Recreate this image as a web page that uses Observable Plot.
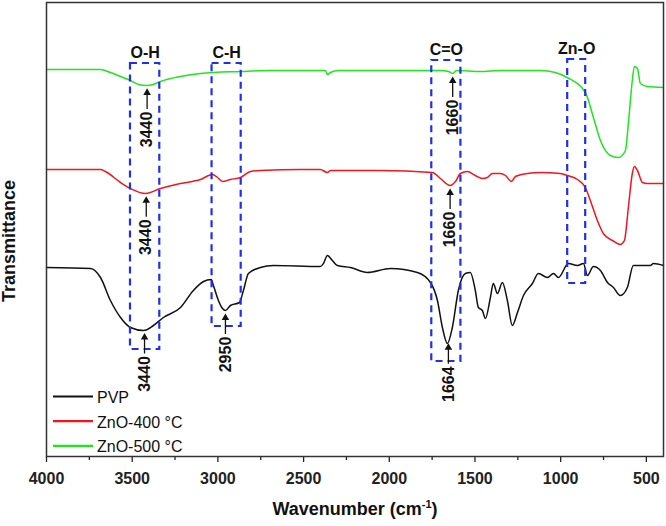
<!DOCTYPE html>
<html><head><meta charset="utf-8">
<script src="https://cdn.jsdelivr.net/npm/d3@7"></script>
<script src="https://cdn.jsdelivr.net/npm/@observablehq/plot@0.6"></script>
<style>body{margin:0;background:#fff}</style>
</head><body><div id="chart"></div>
<script>
const seriesNames = ["PVP", "ZnO-400 °C", "ZnO-500 °C"];
const seriesColors = ["#111111", "#f5141e", "#1fe51f"];

const pvpWave = [4000,3743,3685,3627,3568,3510,3434,3376,3318,3218,3143,3084,3039,3026,2997,2973,2956,2927,2874,2851,2822,2752,2676,2402,2384,2361,2332,2303,2227,2128,1993,1836,1760,1719,1690,1661,1632,1597,1556,1527,1498,1480,1457,1439,1410,1393,1369,1340,1311,1282,1252,1217,1165,1130,1077,1042,1013,955,902,867,844,809,768,727,692,652,611,576,477,459,400];
const pvpT = [189,188,179,156,139,129,126,131,139,149,166,175,177,171,156,148,146,151,154,166,183,189,191,190,193,201,196,191,189,184,188,184,174,156,129,113,129,166,183,184,166,149,146,138,159,173,163,174,156,131,144,161,173,183,179,183,179,193,191,193,181,190,186,174,169,161,169,191,191,193,191];

const zno400Wave = [4000,3685,3656,3568,3510,3422,3335,3218,3102,3032,3002,2973,2927,2868,2810,2752,2518,2402,2361,2343,2052,1748,1702,1645,1614,1585,1544,1498,1457,1428,1398,1352,1322,1287,1264,1194,1118,1002,961,902,856,827,786,751,698,652,628,605,582,570,552,523,494,400];
const zno400T = [287,287,285,274,268,263,268,273,277,282,279,275,277,279,285,286,287,287,284,286,286,284,278,271,275,283,285,281,278,279,283,283,281,275,280,283,284,283,281,277,269,256,236,223,216,212,216,249,283,290,286,274,273,273];

const zno500Wave = [4000,3685,3627,3568,3510,3463,3417,3376,3335,3218,3102,2868,2693,2402,2372,2361,2343,2297,1935,1702,1655,1630,1608,1468,1352,1118,1031,963,856,809,768,710,663,622,605,582,570,552,535,494,400];
const zno500T = [387,387,384,380,376,372,371,372,375,380,383,385,386,386,386,382,384,386,386,386,385,383,386,385,386,386,384,379,364,339,316,301,299,306,333,376,390,388,373,370,369];

const xTicks = [4000,3500,3000,2500,2000,1500,1000,500];
const minorTicks = [3750,3250,2750,2250,1750,1250,750];

const boxLabels = ["O-H", "C-H", "C=O", "Zn-O"];
const boxFrom = [3510, 3034, 1752, 959];
const boxTo = [3339, 2864, 1582, 854];
const boxTop = [393, 393, 396, 397];
const boxBottom = [107, 130, 95, 173];

const peakLabels = ["3440", "3440", "3440", "2950", "1660", "1660", "1664"];
const peakWave = [3413, 3418, 3428, 2956, 1630, 1645, 1655];
const peakSeries = [2, 1, 0, 0, 2, 1, 0];

const waves = [pvpWave, zno400Wave, zno500Wave];
const values = [pvpT, zno400T, zno500T];

const spectra = [];
waves.forEach((ws, i) => ws.forEach((w, j) => spectra.push({series: seriesNames[i], w, t: values[i][j]})));

function valueAt(i, w) {
  const ws = waves[i], ts = values[i];
  for (let j = 0; j < ws.length - 1; j++) {
    if (w <= ws[j] && w >= ws[j + 1]) {
      const f = (ws[j] - w) / (ws[j] - ws[j + 1]);
      return ts[j] + f * (ts[j + 1] - ts[j]);
    }
  }
  return ts[ts.length - 1];
}

const boxes = boxLabels.map((label, i) => ({label, x1: boxFrom[i], x2: boxTo[i], y1: boxBottom[i], y2: boxTop[i], xm: (boxFrom[i] + boxTo[i]) / 2}));
const peaks = peakLabels.map((label, i) => {
  const tip = valueAt(peakSeries[i], peakWave[i]) - 3;
  return {label, w: peakWave[i], tip, head: tip - 4.3, tail: tip - 21, textY: tip - 41};
});

const font = "'Liberation Sans', Arial, Helvetica, sans-serif";

const plot = Plot.plot({
  width: 666,
  height: 526,
  marginLeft: 46,
  marginRight: 3,
  marginTop: 2,
  marginBottom: 70,
  style: {fontFamily: font, color: "#222", background: "#fff"},
  x: {domain: [4000, 400], label: null},
  y: {domain: [0, 454], axis: null, label: null},
  color: {domain: seriesNames, range: seriesColors},
  marks: [
    Plot.line(spectra, {x: "w", y: "t", z: "series", stroke: "series", strokeWidth: 1.5, curve: "monotone-x"}),
    Plot.rect(boxes, {x1: "x1", x2: "x2", y1: "y1", y2: "y2", fill: "none", stroke: "#1f2fef", strokeWidth: 2.2, strokeDasharray: "7,5"}),
    Plot.text(boxes, {x: "xm", y: "y2", text: "label", dy: -11, fontSize: 16, fontWeight: "bold", fill: "#111"}),
    Plot.ruleX(peaks, {x: "w", y1: "tail", y2: "head", stroke: "#111", strokeWidth: 1.3}),
    Plot.dot(peaks, {x: "w", y: "head", symbol: "triangle", r: 2.8, fill: "#111", stroke: null}),
    Plot.text(peaks, {x: "w", y: "textY", text: "label", rotate: -90, fontSize: 16, fontWeight: "bold", fill: "#111"}),
    Plot.axisX(minorTicks, {tickSize: 4, tickFormat: () => "", label: null, strokeWidth: 1.3}),
    Plot.axisX(xTicks, {tickSize: 6, tickPadding: 10, tickFormat: d => String(d), label: null, fontSize: 16, fontWeight: "bold", strokeWidth: 1.3}),
    Plot.frame({stroke: "#333", strokeWidth: 1.5})
  ]
});

const svg = d3.select(plot);
const leg = svg.append("g").attr("font-family", font).attr("font-size", 16).attr("text-anchor", "start");
seriesNames.forEach((name, i) => {
  const y = 396.5 + 24.7 * i;
  leg.append("line").attr("x1", 53).attr("x2", 93).attr("y1", y).attr("y2", y)
    .attr("stroke", seriesColors[i]).attr("stroke-width", 2.2);
  leg.append("text").attr("x", 97).attr("y", y + 6.5).attr("text-anchor", "start").attr("fill", "#111").text(name);
});

svg.append("text").attr("transform", "translate(15,241) rotate(-90)")
  .attr("text-anchor", "middle").attr("font-family", font).attr("font-size", 18)
  .attr("font-weight", "bold").attr("fill", "#111").text("Transmittance");

const xt = svg.append("text").attr("x", 355).attr("y", 515)
  .attr("text-anchor", "middle").attr("font-family", font).attr("font-size", 18)
  .attr("font-weight", "bold").attr("fill", "#111");
xt.append("tspan").text("Wavenumber (cm");
xt.append("tspan").attr("font-size", 11).attr("dy", -7).text("-1");
xt.append("tspan").attr("dy", 7).text(")");

document.getElementById("chart").appendChild(plot);
</script>
</body></html>
